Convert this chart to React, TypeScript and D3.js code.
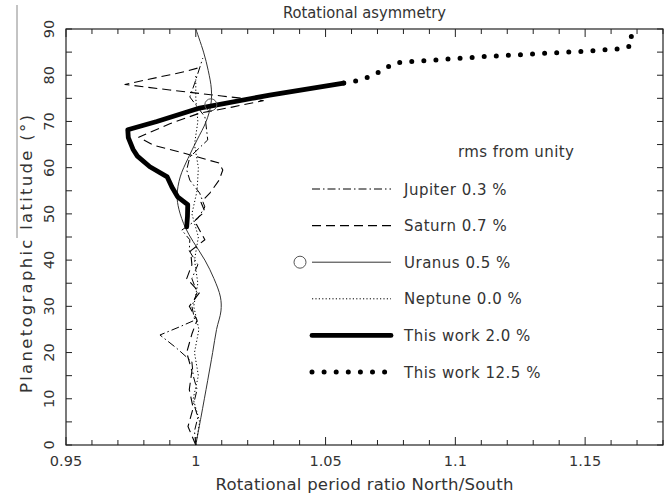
import React, { useEffect, useRef } from "react";
import * as d3 from "d3";

const width = 672;
const height = 496;
const margin = { top: 29, right: 9, bottom: 51, left: 66 };

const xDomain: [number, number] = [0.95, 1.18];
const yDomain: [number, number] = [0, 90];
const xTickValues = [0.95, 1, 1.05, 1.1, 1.15];
const xTickLabels = ["0.95", "1", "1.05", "1.1", "1.15"];
const yTickValues = [0, 10, 20, 30, 40, 50, 60, 70, 80, 90];

// [ratio N/S, latitude]
const jupiter: [number, number][] = [
  [1.0, 0], [0.9995, 3], [1.0008, 6], [0.9992, 9], [1.0005, 12], [0.999, 15],
  [0.9985, 18], [0.9925, 21], [0.9862, 23.8], [0.9935, 25.5], [0.9996, 27],
  [0.9985, 30], [1.0005, 33], [0.9985, 36], [1.0008, 39], [0.9975, 42],
  [0.9977, 44.4], [0.9946, 46.5], [0.9985, 48], [1.0008, 49], [1.0035, 51.5],
  [1.0015, 54.5], [0.9977, 57.3], [0.9965, 59.5], [0.9977, 62.3], [1.0046, 66],
  [1.004, 69], [1.0035, 71], [0.9977, 75.3], [0.9996, 78.3], [1.0027, 83.7],
];

const saturn: [number, number][] = [
  [1.0, 0], [0.997, 4], [0.999, 8], [0.9975, 12], [0.9985, 16], [0.9965, 20],
  [0.9985, 24], [1.0005, 27], [0.9975, 30], [1.0015, 33], [0.9965, 36],
  [0.9985, 39], [0.998, 42], [1.0035, 44.4], [0.9995, 48.5], [1.0035, 50.5],
  [1.002, 52.5], [1.0054, 54.5], [1.009, 57.3], [1.0104, 59.5], [1.009, 61],
  [0.995, 63.2], [0.9835, 64.9], [0.978, 66.6], [0.99, 69.5], [1.0015, 71.8],
  [1.014, 73.1], [1.026, 74.5], [1.01, 75.5], [0.99, 76.8], [0.9727, 78.0],
  [0.985, 79.5], [0.996, 80.8], [1.0023, 81.8],
];

const uranus: [number, number][] = [
  [1.0, 0], [1.002, 6], [1.0046, 14], [1.0065, 20], [1.008, 25], [1.0097, 29],
  [1.0095, 32], [1.007, 36], [1.0035, 40], [0.999, 44], [0.996, 47],
  [0.9935, 51], [0.9928, 54], [0.994, 58], [0.997, 62], [1.0005, 66],
  [1.004, 70], [1.0058, 73.6], [1.006, 77], [1.0048, 81], [1.003, 85], [1.0, 90],
];
const uranusMarker: [number, number] = [1.0058, 73.6];

const neptune: [number, number][] = [
  [1.0, 0], [1.0015, 5], [0.999, 10], [1.001, 15], [0.9995, 20], [1.0012, 25],
  [0.9992, 30], [1.0008, 35], [0.9995, 40], [1.001, 45], [0.9985, 50],
  [1.0005, 55], [1.001, 60], [0.9995, 65], [1.0008, 70], [1.0, 75], [1.0, 80],
];

const thisWork: [number, number][] = [
  [0.9965, 47.2], [0.9968, 49.5], [0.9969, 52], [0.993, 53.7], [0.9908, 55.8],
  [0.989, 58], [0.9823, 60.2], [0.9775, 62.5], [0.9758, 64], [0.974, 66.5],
  [0.9738, 68.2], [0.985, 70.0], [1.0015, 72.9], [1.0285, 75.7], [1.057, 78.3],
];

const thisWorkHigh: [number, number][] = [
  [1.057, 78.3], [1.064, 79.0], [1.0685, 80.1], [1.0723, 81.2], [1.0762, 82.6],
  [1.0804, 82.9], [1.09, 83.2], [1.1, 83.6], [1.11, 84.0], [1.12, 84.3],
  [1.13, 84.6], [1.14, 84.9], [1.15, 85.2], [1.16, 85.6], [1.165, 85.8],
  [1.168, 86.5], [1.1677, 89.3],
];

const legendLabels = [
  "Jupiter 0.3 %",
  "Saturn 0.7 %",
  "Uranus 0.5 %",
  "Neptune 0.0 %",
  "This work 2.0 %",
  "This work 12.5 %",
];

const font = "'DejaVu Sans', sans-serif";
const ink = "#333";

const styles = [
  { dash: "8 3 1.5 3", w: 1, cap: "butt" },
  { dash: "9 5", w: 1.1, cap: "butt" },
  { dash: null, w: 1, cap: "butt" },
  { dash: "1.2 2.2", w: 1, cap: "butt" },
  { dash: null, w: 4.8, cap: "round" },
  { dash: "0 12.1", w: 5, cap: "round" },
];

export default function App() {
  const ref = useRef<SVGSVGElement>(null);

  useEffect(() => {
    const svg = d3.select(ref.current);
    svg.selectAll("*").remove();

    const x = d3.scaleLinear(xDomain, [margin.left, width - margin.right]);
    const y = d3.scaleLinear(yDomain, [height - margin.bottom, margin.top]);
    const x0 = margin.left;
    const x1 = width - margin.right;
    const y0 = height - margin.bottom;
    const y1 = margin.top;

    // stray gray rule at the left edge
    svg.append("line").attr("x1", 17).attr("x2", 17).attr("y1", 5).attr("y2", 238)
      .attr("stroke", "#888").attr("stroke-width", 1);

    // frame
    svg.append("rect").attr("x", x0).attr("y", y1).attr("width", x1 - x0).attr("height", y0 - y1)
      .attr("fill", "none").attr("stroke", "#222").attr("stroke-width", 1.2);

    // x ticks (minor every 0.01, major every 0.05)
    const minorX = d3.range(0, 24).map((i) => 0.95 + i * 0.01);
    minorX.forEach((v) => {
      const major = xTickValues.some((t) => Math.abs(t - v) < 1e-6);
      const len = major ? 8 : 5;
      svg.append("line").attr("x1", x(v)).attr("x2", x(v)).attr("y1", y0).attr("y2", y0 - len)
        .attr("stroke", "#222");
      svg.append("line").attr("x1", x(v)).attr("x2", x(v)).attr("y1", y1).attr("y2", y1 + len)
        .attr("stroke", "#222");
    });
    xTickValues.forEach((v, i) => {
      svg.append("text").attr("x", x(v)).attr("y", 466).attr("text-anchor", "middle")
        .attr("font-family", font).attr("font-size", 14.5).attr("fill", ink).text(xTickLabels[i]);
    });

    // y ticks every 5 degrees
    d3.range(0, 91, 5).forEach((v) => {
      svg.append("line").attr("x1", x0).attr("x2", x0 + 6).attr("y1", y(v)).attr("y2", y(v)).attr("stroke", "#222");
      svg.append("line").attr("x1", x1).attr("x2", x1 - 6).attr("y1", y(v)).attr("y2", y(v)).attr("stroke", "#222");
    });
    yTickValues.forEach((v) => {
      svg.append("text").attr("transform", `translate(53.5,${y(v)}) rotate(-90)`)
        .attr("text-anchor", "middle").attr("font-family", font).attr("font-size", 14.5)
        .attr("fill", ink).text(String(v));
    });

    // titles
    svg.append("text").attr("x", (x0 + x1) / 2).attr("y", 18.3).attr("text-anchor", "middle")
      .attr("font-family", font).attr("font-size", 15).attr("fill", ink)
      .attr("textLength", 163).attr("lengthAdjust", "spacingAndGlyphs")
      .text("Rotational asymmetry");
    svg.append("text").attr("x", (x0 + x1) / 2).attr("y", 490).attr("text-anchor", "middle")
      .attr("font-family", font).attr("font-size", 16.5).attr("fill", ink)
      .attr("textLength", 298).attr("lengthAdjust", "spacing")
      .text("Rotational period ratio North/South");
    svg.append("text").attr("transform", "translate(32,254) rotate(-90)").attr("text-anchor", "middle")
      .attr("font-family", font).attr("font-size", 16.5).attr("fill", ink)
      .attr("textLength", 278).attr("lengthAdjust", "spacing")
      .text("Planetographic latitude (°)");

    const line = d3.line<[number, number]>().x((d) => x(d[0])).y((d) => y(d[1]));
    const smooth = d3.line<[number, number]>().x((d) => x(d[0])).y((d) => y(d[1]))
      .curve(d3.curveCatmullRom);

    const series = [jupiter, saturn, uranus, neptune, thisWork, thisWorkHigh];
    series.forEach((data, i) => {
      const s = styles[i];
      svg.append("path")
        .attr("d", (i === 2 ? smooth : line)(data))
        .attr("fill", "none").attr("stroke", i === 2 ? "#333" : "#000")
        .attr("stroke-width", s.w)
        .attr("stroke-linecap", s.cap)
        .attr("stroke-linejoin", "round")
        .attr("stroke-dasharray", s.dash);
    });
    svg.append("circle").attr("cx", x(uranusMarker[0])).attr("cy", y(uranusMarker[1])).attr("r", 6)
      .attr("fill", "none").attr("stroke", "#555");

    // legend
    svg.append("text").attr("x", 458).attr("y", 157).attr("font-family", font).attr("font-size", 15)
      .attr("letter-spacing", 0.4).attr("fill", ink).text("rms from unity");
    const rowY = d3.scaleLinear([0, 5], [189, 372]);
    legendLabels.forEach((label, i) => {
      const s = styles[i];
      const ly = rowY(i);
      const lx2 = i === 5 ? 385 : 391;
      svg.append("line").attr("x1", 312).attr("x2", lx2).attr("y1", ly).attr("y2", ly)
        .attr("stroke", i === 2 ? "#333" : "#000").attr("stroke-width", s.w)
        .attr("stroke-linecap", s.cap).attr("stroke-dasharray", s.dash);
      if (i === 2) {
        svg.append("circle").attr("cx", 300).attr("cy", ly).attr("r", 6)
          .attr("fill", "none").attr("stroke", "#555");
      }
      svg.append("text").attr("x", 404).attr("y", ly + 5.5).attr("font-family", font)
        .attr("font-size", 15).attr("letter-spacing", 0.5).attr("fill", ink).text(label);
    });
  }, []);

  return (
    <svg
      ref={ref}
      width={width}
      height={height}
      style={{ position: "absolute", left: 0, top: 0, background: "#fff" }}
    />
  );
}
